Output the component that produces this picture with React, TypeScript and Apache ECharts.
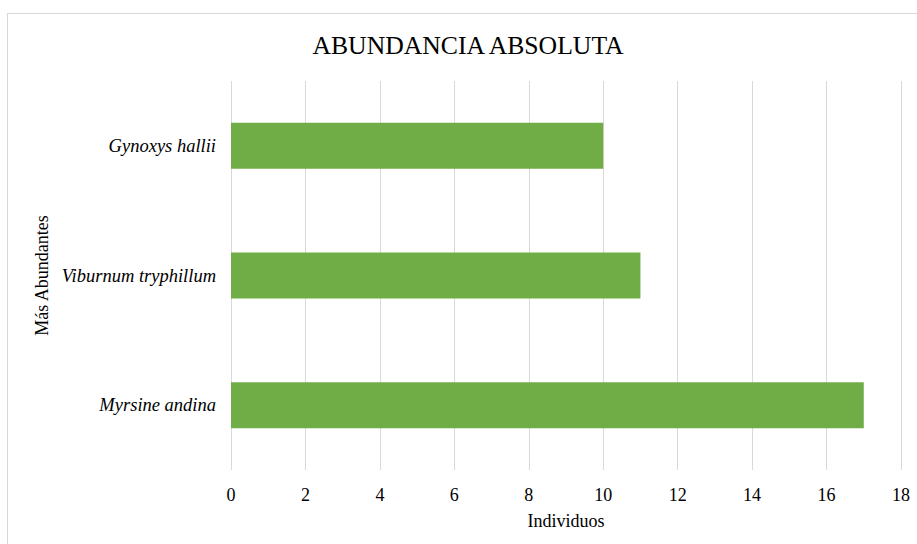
import React, { useEffect, useRef } from "react";
import * as echarts from "echarts";

const species = ["Myrsine andina", "Viburnum tryphillum", "Gynoxys hallii"];
const individuals = [17, 11, 10];
const xTicks = { min: 0, max: 18, interval: 2 };

const FONT = "Liberation Serif";

export default function App() {
  const ref = useRef<HTMLDivElement>(null);

  useEffect(() => {
    if (!ref.current) return;
    const chart = echarts.init(ref.current, undefined, { renderer: "svg" });
    chart.setOption({
      animation: false,
      backgroundColor: "#ffffff",
      textStyle: { fontFamily: FONT },
      title: {
        text: "ABUNDANCIA ABSOLUTA",
        left: 463,
        top: 27,
        textAlign: "center",
        textStyle: { fontFamily: FONT, fontSize: 25.7, fontWeight: "normal", color: "#000" },
      },
      grid: { left: 231, right: 16, top: 81, bottom: 74 },
      xAxis: {
        type: "value",
        min: xTicks.min,
        max: xTicks.max,
        interval: xTicks.interval,
        name: "Individuos",
        nameLocation: "middle",
        nameGap: 42,
        nameTextStyle: { fontFamily: FONT, fontSize: 18, color: "#000" },
        axisLine: { show: false },
        axisTick: { show: false },
        axisLabel: { fontFamily: FONT, fontSize: 18, color: "#000", margin: 16 },
        splitLine: { show: true, lineStyle: { color: "#d9d9d9", width: 1 } },
      },
      yAxis: {
        type: "category",
        data: species,
        name: "Más Abundantes",
        nameLocation: "middle",
        nameGap: 179,
        nameRotate: 90,
        nameTextStyle: { fontFamily: FONT, fontSize: 18, color: "#000" },
        axisLine: { show: false },
        axisTick: { show: false },
        axisLabel: { fontFamily: FONT, fontSize: 18.5, fontStyle: "italic", color: "#000", margin: 15 },
        splitLine: { show: false },
      },
      series: [
        {
          type: "bar",
          data: individuals,
          barCategoryGap: "64.5%",
          itemStyle: { color: "#70ad47" },
        },
      ],
    });
    return () => chart.dispose();
  }, []);

  return (
    <div style={{ position: "fixed", left: 0, top: 0, width: 917, height: 544, background: "#fff", overflow: "hidden" }}>
      <div ref={ref} style={{ position: "absolute", left: 0, top: 0, width: 917, height: 544 }} />
      <div
        style={{
          position: "absolute",
          left: 7,
          top: 13,
          width: 940,
          height: 560,
          border: "1px solid #d9d9d9",
          pointerEvents: "none",
        }}
      />
    </div>
  );
}
